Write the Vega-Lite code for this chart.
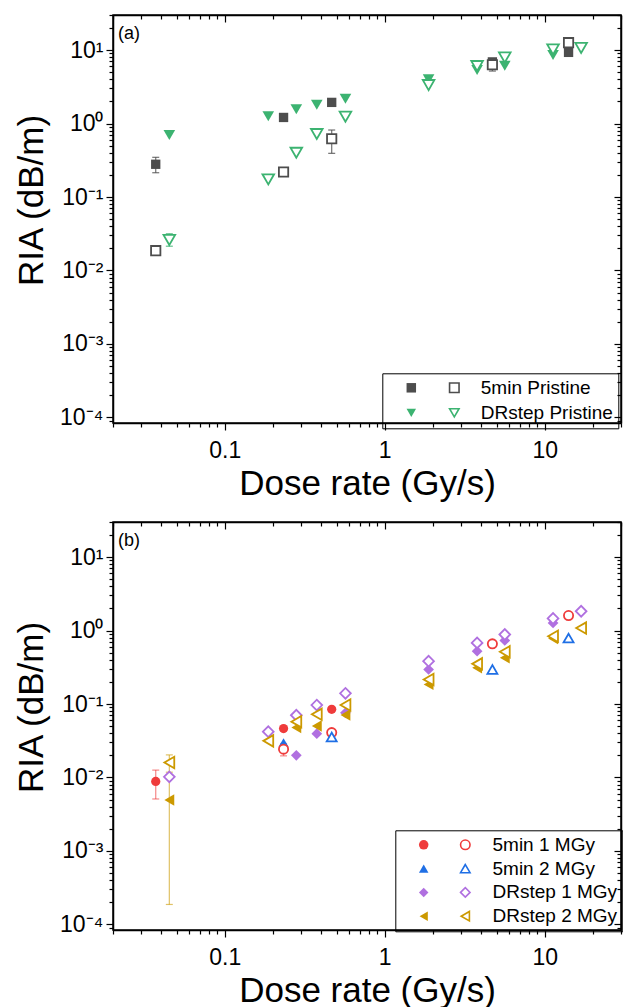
{
  "$schema": "https://vega.github.io/schema/vega-lite/v6.json",
  "background": "white",
  "padding": {"left": 13, "top": 3, "right": 0, "bottom": 0},
  "bounds": "flush",
  "spacing": 99,
  "config": {
    "font": "Liberation Sans",
    "view": {"stroke": "black", "strokeWidth": 1.5},
    "axis": {
      "domainColor": "black", "domainWidth": 1.5, "tickColor": "black", "tickWidth": 1.2,
      "labelFont": "Liberation Sans", "labelFontSize": 23, "labelColor": "black",
      "titleFont": "Liberation Sans", "titleFontSize": 35, "titleFontWeight": "normal", "titleColor": "black",
      "grid": false, "labelOverlap": false, "labelFlush": false, "labelBound": false
    },
    "legend": {"labelFont": "Liberation Sans", "labelColor": "black", "labelFontSize": 19, "symbolOpacity": 1}
  },
  "datasets": {
    "a": [
      {"rate": 0.037, "ria": 0.279, "series": "5min Pristine", "variant": "A", "lo": 0.214, "hi": 0.347},
      {"rate": 0.233, "ria": 1.21, "series": "5min Pristine", "variant": "A"},
      {"rate": 0.466, "ria": 1.94, "series": "5min Pristine", "variant": "A"},
      {"rate": 4.71, "ria": 6.9, "series": "5min Pristine", "variant": "A"},
      {"rate": 14.1, "ria": 9.3, "series": "5min Pristine", "variant": "A"},
      {"rate": 0.037, "ria": 0.0186, "series": "5min Pristine", "variant": "B"},
      {"rate": 0.233, "ria": 0.219, "series": "5min Pristine", "variant": "B"},
      {"rate": 0.466, "ria": 0.62, "series": "5min Pristine", "variant": "B", "lo": 0.393, "hi": 0.816},
      {"rate": 4.71, "ria": 6.3, "series": "5min Pristine", "variant": "B", "lo": 5.18, "hi": 7.3},
      {"rate": 14.1, "ria": 12.6, "series": "5min Pristine", "variant": "B"},
      {"rate": 0.045, "ria": 0.698, "series": "DRstep Pristine", "variant": "A"},
      {"rate": 0.187, "ria": 1.26, "series": "DRstep Pristine", "variant": "A"},
      {"rate": 0.28, "ria": 1.56, "series": "DRstep Pristine", "variant": "A"},
      {"rate": 0.376, "ria": 1.8, "series": "DRstep Pristine", "variant": "A"},
      {"rate": 0.568, "ria": 2.17, "series": "DRstep Pristine", "variant": "A"},
      {"rate": 1.88, "ria": 3.99, "series": "DRstep Pristine", "variant": "A"},
      {"rate": 3.78, "ria": 5.34, "series": "DRstep Pristine", "variant": "A"},
      {"rate": 5.63, "ria": 6.11, "series": "DRstep Pristine", "variant": "A"},
      {"rate": 11.28, "ria": 8.55, "series": "DRstep Pristine", "variant": "A"},
      {"rate": 16.9, "ria": 10.9, "series": "DRstep Pristine", "variant": "A"},
      {"rate": 0.045, "ria": 0.026, "series": "DRstep Pristine", "variant": "B", "lo": 0.0214, "hi": 0.0316},
      {"rate": 0.187, "ria": 0.174, "series": "DRstep Pristine", "variant": "B"},
      {"rate": 0.28, "ria": 0.4, "series": "DRstep Pristine", "variant": "B"},
      {"rate": 0.376, "ria": 0.72, "series": "DRstep Pristine", "variant": "B"},
      {"rate": 0.568, "ria": 1.24, "series": "DRstep Pristine", "variant": "B"},
      {"rate": 1.88, "ria": 3.34, "series": "DRstep Pristine", "variant": "B"},
      {"rate": 3.78, "ria": 6.06, "series": "DRstep Pristine", "variant": "B"},
      {"rate": 5.63, "ria": 7.94, "series": "DRstep Pristine", "variant": "B"},
      {"rate": 11.28, "ria": 10.2, "series": "DRstep Pristine", "variant": "B"},
      {"rate": 16.9, "ria": 10.7, "series": "DRstep Pristine", "variant": "B"}
    ],
    "b": [
      {"rate": 0.037, "ria": 0.00883, "series": "5min 1 MGy", "variant": "A", "lo": 0.0051, "hi": 0.0126},
      {"rate": 0.233, "ria": 0.0463, "series": "5min 1 MGy", "variant": "A"},
      {"rate": 0.466, "ria": 0.0848, "series": "5min 1 MGy", "variant": "A"},
      {"rate": 0.233, "ria": 0.0243, "series": "5min 1 MGy", "variant": "B", "lo": 0.0197, "hi": 0.029},
      {"rate": 0.466, "ria": 0.0408, "series": "5min 1 MGy", "variant": "B"},
      {"rate": 4.71, "ria": 0.659, "series": "5min 1 MGy", "variant": "B"},
      {"rate": 14.1, "ria": 1.6, "series": "5min 1 MGy", "variant": "B"},
      {"rate": 0.233, "ria": 0.0299, "series": "5min 2 MGy", "variant": "A"},
      {"rate": 0.466, "ria": 0.0356, "series": "5min 2 MGy", "variant": "B"},
      {"rate": 4.71, "ria": 0.295, "series": "5min 2 MGy", "variant": "B"},
      {"rate": 14.1, "ria": 0.79, "series": "5min 2 MGy", "variant": "B"},
      {"rate": 0.28, "ria": 0.02, "series": "DRstep 1 MGy", "variant": "A"},
      {"rate": 0.376, "ria": 0.0395, "series": "DRstep 1 MGy", "variant": "A"},
      {"rate": 0.568, "ria": 0.076, "series": "DRstep 1 MGy", "variant": "A"},
      {"rate": 1.88, "ria": 0.295, "series": "DRstep 1 MGy", "variant": "A"},
      {"rate": 3.78, "ria": 0.524, "series": "DRstep 1 MGy", "variant": "A"},
      {"rate": 5.63, "ria": 0.732, "series": "DRstep 1 MGy", "variant": "A"},
      {"rate": 11.28, "ria": 1.27, "series": "DRstep 1 MGy", "variant": "A"},
      {"rate": 0.045, "ria": 0.0102, "series": "DRstep 1 MGy", "variant": "B"},
      {"rate": 0.187, "ria": 0.042, "series": "DRstep 1 MGy", "variant": "B"},
      {"rate": 0.28, "ria": 0.0703, "series": "DRstep 1 MGy", "variant": "B"},
      {"rate": 0.376, "ria": 0.0969, "series": "DRstep 1 MGy", "variant": "B"},
      {"rate": 0.568, "ria": 0.14, "series": "DRstep 1 MGy", "variant": "B"},
      {"rate": 1.88, "ria": 0.383, "series": "DRstep 1 MGy", "variant": "B"},
      {"rate": 3.78, "ria": 0.679, "series": "DRstep 1 MGy", "variant": "B"},
      {"rate": 5.63, "ria": 0.883, "series": "DRstep 1 MGy", "variant": "B"},
      {"rate": 11.28, "ria": 1.46, "series": "DRstep 1 MGy", "variant": "B"},
      {"rate": 16.9, "ria": 1.83, "series": "DRstep 1 MGy", "variant": "B"},
      {"rate": 0.045, "ria": 0.00493, "series": "DRstep 2 MGy", "variant": "A", "lo": 0.000187, "hi": 0.0097},
      {"rate": 0.28, "ria": 0.048, "series": "DRstep 2 MGy", "variant": "A"},
      {"rate": 0.376, "ria": 0.0503, "series": "DRstep 2 MGy", "variant": "A"},
      {"rate": 0.568, "ria": 0.071, "series": "DRstep 2 MGy", "variant": "A"},
      {"rate": 1.88, "ria": 0.185, "series": "DRstep 2 MGy", "variant": "A"},
      {"rate": 3.78, "ria": 0.311, "series": "DRstep 2 MGy", "variant": "A"},
      {"rate": 5.63, "ria": 0.425, "series": "DRstep 2 MGy", "variant": "A"},
      {"rate": 11.28, "ria": 0.778, "series": "DRstep 2 MGy", "variant": "A"},
      {"rate": 0.045, "ria": 0.016, "series": "DRstep 2 MGy", "variant": "B", "lo": 0.0118, "hi": 0.0203},
      {"rate": 0.187, "ria": 0.0315, "series": "DRstep 2 MGy", "variant": "B"},
      {"rate": 0.28, "ria": 0.0575, "series": "DRstep 2 MGy", "variant": "B"},
      {"rate": 0.376, "ria": 0.0724, "series": "DRstep 2 MGy", "variant": "B"},
      {"rate": 0.568, "ria": 0.097, "series": "DRstep 2 MGy", "variant": "B"},
      {"rate": 1.88, "ria": 0.216, "series": "DRstep 2 MGy", "variant": "B"},
      {"rate": 3.78, "ria": 0.352, "series": "DRstep 2 MGy", "variant": "B"},
      {"rate": 5.63, "ria": 0.513, "series": "DRstep 2 MGy", "variant": "B"},
      {"rate": 11.28, "ria": 0.837, "series": "DRstep 2 MGy", "variant": "B"},
      {"rate": 16.9, "ria": 1.08, "series": "DRstep 2 MGy", "variant": "B"}
    ]
  },
  "resolve": {"scale": {"color": "independent", "shape": "independent", "size": "independent"}},
  "vconcat": [
    {
      "width": 508, "height": 408,
      "data": {"name": "a"},
      "resolve": {"axis": {"x": "independent", "y": "independent"}, "legend": {"color": "independent", "shape": "independent"}},
      "layer": [
        {
          "transform": [{"filter": "isValid(datum.lo)"}],
          "mark": {"type": "errorbar", "ticks": {"size": 7}, "thickness": 1.2, "opacity": 0.8},
          "encoding": {
            "x": {"field": "rate", "type": "quantitative", "scale": {"type": "log", "domain": [0.02, 30], "nice": false}, "axis": null},
            "y": {"field": "lo", "type": "quantitative", "scale": {"type": "log", "domain": [0.000084, 30], "nice": false}, "axis": null},
            "y2": {"field": "hi"},
            "color": {"field": "series", "type": "nominal", "scale": {"domain": ["5min Pristine", "DRstep Pristine"], "range": ["#4D4D4D", "#3CB371"]}, "legend": null}
          }
        },
        {
          "transform": [{"filter": "datum.variant == 'A'"}],
          "mark": {"type": "point", "filled": true, "opacity": 1, "strokeWidth": 0},
          "encoding": {
            "x": {"field": "rate", "type": "quantitative", "scale": {"type": "log", "domain": [0.02, 30], "nice": false},
              "axis": {"orient": "bottom", "title": "Dose rate (Gy/s)", "titlePadding": 4, "labelPadding": 9,
                "values": [0.02, 0.03, 0.04, 0.05, 0.06, 0.07, 0.08, 0.09, 0.1, 0.2, 0.3, 0.4, 0.5, 0.6, 0.7, 0.8, 0.9, 1, 2, 3, 4, 5, 6, 7, 8, 9, 10, 20, 30],
                "labelExpr": "abs(log(datum.value)/LN10 - round(log(datum.value)/LN10)) < 0.001 ? (datum.value < 0.5 ? '0.1' : datum.value < 5 ? '1' : '10') : ''",
                "tickSize": {"condition": {"test": "abs(log(datum.value)/LN10 - round(log(datum.value)/LN10)) >= 0.001", "value": 4}, "value": 7}}},
            "y": {"field": "ria", "type": "quantitative", "scale": {"type": "log", "domain": [0.000084, 30], "nice": false},
              "axis": {"orient": "left", "title": "RIA (dB/m)", "titlePadding": 10, "labelPadding": 3, "titleY": 185,
                "values": [0.00009, 0.0001, 0.0002, 0.0003, 0.0004, 0.0005, 0.0006, 0.0007, 0.0008, 0.0009, 0.001, 0.002, 0.003, 0.004, 0.005, 0.006, 0.007, 0.008, 0.009, 0.01, 0.02, 0.03, 0.04, 0.05, 0.06, 0.07, 0.08, 0.09, 0.1, 0.2, 0.3, 0.4, 0.5, 0.6, 0.7, 0.8, 0.9, 1, 2, 3, 4, 5, 6, 7, 8, 9, 10, 20, 30],
                "labelExpr": "abs(log(datum.value)/LN10 - round(log(datum.value)/LN10)) < 0.001 ? ['10⁻⁴','10⁻³','10⁻²','10⁻¹','10⁰','10¹'][round(log(datum.value)/LN10)+4] : ''",
                "tickSize": {"condition": {"test": "abs(log(datum.value)/LN10 - round(log(datum.value)/LN10)) >= 0.001", "value": 4}, "value": 7}}},
            "color": {"field": "series", "type": "nominal", "scale": {"domain": ["5min Pristine", "DRstep Pristine"], "range": ["#4D4D4D", "#3CB371"]},
              "legend": {"orient": "none", "legendX": 283.8, "legendY": 358.3, "title": null, "padding": 5, "symbolOffset": 0, "labelOffset": 17, "labelExpr": "''", "symbolSize": 90, "symbolStrokeWidth": 0, "rowPadding": 5}},
            "shape": {"field": "series", "type": "nominal", "scale": {"domain": ["5min Pristine", "DRstep Pristine"], "range": ["square", "triangle-down"]},
              "legend": {"orient": "none", "legendX": 283.8, "legendY": 358.3, "title": null, "padding": 5, "symbolOffset": 0, "labelOffset": 17, "labelExpr": "''", "symbolSize": 90, "symbolStrokeWidth": 0, "rowPadding": 5}},
            "size": {"field": "series", "type": "ordinal", "scale": {"domain": ["5min Pristine", "DRstep Pristine"], "range": [87, 135]}, "legend": null}
          }
        },
        {
          "transform": [{"filter": "datum.variant == 'B'"}],
          "mark": {"type": "point", "filled": false, "fill": "white", "fillOpacity": 1, "opacity": 1, "strokeWidth": 1.8},
          "encoding": {
            "x": {"field": "rate", "type": "quantitative", "scale": {"type": "log", "domain": [0.02, 30], "nice": false},
              "axis": {"orient": "top", "title": null, "labels": false,
                "values": [0.02, 0.03, 0.04, 0.05, 0.06, 0.07, 0.08, 0.09, 0.1, 0.2, 0.3, 0.4, 0.5, 0.6, 0.7, 0.8, 0.9, 1, 2, 3, 4, 5, 6, 7, 8, 9, 10, 20, 30],
                "tickSize": {"condition": {"test": "abs(log(datum.value)/LN10 - round(log(datum.value)/LN10)) >= 0.001", "value": -4}, "value": -7}}},
            "y": {"field": "ria", "type": "quantitative", "scale": {"type": "log", "domain": [0.000084, 30], "nice": false},
              "axis": {"orient": "right", "title": null, "labels": false,
                "values": [0.00009, 0.0001, 0.0002, 0.0003, 0.0004, 0.0005, 0.0006, 0.0007, 0.0008, 0.0009, 0.001, 0.002, 0.003, 0.004, 0.005, 0.006, 0.007, 0.008, 0.009, 0.01, 0.02, 0.03, 0.04, 0.05, 0.06, 0.07, 0.08, 0.09, 0.1, 0.2, 0.3, 0.4, 0.5, 0.6, 0.7, 0.8, 0.9, 1, 2, 3, 4, 5, 6, 7, 8, 9, 10, 20, 30],
                "tickSize": {"condition": {"test": "abs(log(datum.value)/LN10 - round(log(datum.value)/LN10)) >= 0.001", "value": -4}, "value": -7}}},
            "color": {"field": "series", "type": "nominal", "scale": {"domain": ["5min Pristine", "DRstep Pristine"], "range": ["#4D4D4D", "#3CB371"]},
              "legend": {"orient": "none", "legendX": 269.3, "legendY": 358.3, "title": null, "padding": 5, "symbolOffset": 57.5, "labelOffset": 17, "symbolSize": 90, "symbolStrokeWidth": 1.6, "symbolFillColor": "white", "strokeColor": "black", "rowPadding": 5}},
            "shape": {"field": "series", "type": "nominal", "scale": {"domain": ["5min Pristine", "DRstep Pristine"], "range": ["square", "triangle-down"]},
              "legend": {"orient": "none", "legendX": 269.3, "legendY": 358.3, "title": null, "padding": 5, "symbolOffset": 57.5, "labelOffset": 17, "symbolSize": 90, "symbolStrokeWidth": 1.6, "symbolFillColor": "white", "strokeColor": "black", "rowPadding": 5}},
            "size": {"field": "series", "type": "ordinal", "scale": {"domain": ["5min Pristine", "DRstep Pristine"], "range": [70, 110]}, "legend": null}
          }
        },
        {
          "data": {"values": [{"panel": "(a)"}]},
          "mark": {"type": "text", "align": "left", "baseline": "middle", "fontSize": 18, "font": "Liberation Sans", "color": "black"},
          "encoding": {
            "x": {"datum": 0.0215, "type": "quantitative", "scale": {"type": "log", "domain": [0.02, 30], "nice": false}, "axis": null},
            "y": {"datum": 16.8, "type": "quantitative", "scale": {"type": "log", "domain": [0.000084, 30], "nice": false}, "axis": null},
            "text": {"field": "panel"}
          }
        }
      ]
    },
    {
      "width": 508, "height": 408,
      "data": {"name": "b"},
      "resolve": {"axis": {"x": "independent", "y": "independent"}, "legend": {"color": "independent", "shape": "independent"}},
      "layer": [
        {
          "transform": [{"filter": "isValid(datum.lo)"}],
          "mark": {"type": "errorbar", "ticks": {"size": 7}, "thickness": 1.2, "opacity": 0.6},
          "encoding": {
            "x": {"field": "rate", "type": "quantitative", "scale": {"type": "log", "domain": [0.02, 30], "nice": false}, "axis": null},
            "y": {"field": "lo", "type": "quantitative", "scale": {"type": "log", "domain": [0.000084, 30], "nice": false}, "axis": null},
            "y2": {"field": "hi"},
            "color": {"field": "series", "type": "nominal", "scale": {"domain": ["5min 1 MGy", "5min 2 MGy", "DRstep 1 MGy", "DRstep 2 MGy"], "range": ["#EF3B3B", "#1F6FE5", "#B070E0", "#CC9900"]}, "legend": null}
          }
        },
        {
          "transform": [{"filter": "datum.variant == 'A'"}],
          "mark": {"type": "point", "filled": true, "opacity": 1, "strokeWidth": 0},
          "encoding": {
            "x": {"field": "rate", "type": "quantitative", "scale": {"type": "log", "domain": [0.02, 30], "nice": false},
              "axis": {"orient": "bottom", "title": "Dose rate (Gy/s)", "titlePadding": 4, "labelPadding": 9,
                "values": [0.02, 0.03, 0.04, 0.05, 0.06, 0.07, 0.08, 0.09, 0.1, 0.2, 0.3, 0.4, 0.5, 0.6, 0.7, 0.8, 0.9, 1, 2, 3, 4, 5, 6, 7, 8, 9, 10, 20, 30],
                "labelExpr": "abs(log(datum.value)/LN10 - round(log(datum.value)/LN10)) < 0.001 ? (datum.value < 0.5 ? '0.1' : datum.value < 5 ? '1' : '10') : ''",
                "tickSize": {"condition": {"test": "abs(log(datum.value)/LN10 - round(log(datum.value)/LN10)) >= 0.001", "value": 4}, "value": 7}}},
            "y": {"field": "ria", "type": "quantitative", "scale": {"type": "log", "domain": [0.000084, 30], "nice": false},
              "axis": {"orient": "left", "title": "RIA (dB/m)", "titlePadding": 10, "labelPadding": 3, "titleY": 185,
                "values": [0.00009, 0.0001, 0.0002, 0.0003, 0.0004, 0.0005, 0.0006, 0.0007, 0.0008, 0.0009, 0.001, 0.002, 0.003, 0.004, 0.005, 0.006, 0.007, 0.008, 0.009, 0.01, 0.02, 0.03, 0.04, 0.05, 0.06, 0.07, 0.08, 0.09, 0.1, 0.2, 0.3, 0.4, 0.5, 0.6, 0.7, 0.8, 0.9, 1, 2, 3, 4, 5, 6, 7, 8, 9, 10, 20, 30],
                "labelExpr": "abs(log(datum.value)/LN10 - round(log(datum.value)/LN10)) < 0.001 ? ['10⁻⁴','10⁻³','10⁻²','10⁻¹','10⁰','10¹'][round(log(datum.value)/LN10)+4] : ''",
                "tickSize": {"condition": {"test": "abs(log(datum.value)/LN10 - round(log(datum.value)/LN10)) >= 0.001", "value": 4}, "value": 7}}},
            "color": {"field": "series", "type": "nominal", "scale": {"domain": ["5min 1 MGy", "5min 2 MGy", "DRstep 1 MGy", "DRstep 2 MGy"], "range": ["#EF3B3B", "#1F6FE5", "#B070E0", "#CC9900"]},
              "legend": {"orient": "none", "legendX": 296.2, "legendY": 308.3, "title": null, "padding": 5, "symbolOffset": 0, "labelOffset": 17.7, "labelExpr": "''", "symbolSize": 90, "symbolStrokeWidth": 0, "rowPadding": 3.8}},
            "shape": {"field": "series", "type": "nominal", "scale": {"domain": ["5min 1 MGy", "5min 2 MGy", "DRstep 1 MGy", "DRstep 2 MGy"], "range": ["circle", "triangle-up", "diamond", "triangle-left"]},
              "legend": {"orient": "none", "legendX": 296.2, "legendY": 308.3, "title": null, "padding": 5, "symbolOffset": 0, "labelOffset": 17.7, "labelExpr": "''", "symbolSize": 90, "symbolStrokeWidth": 0, "rowPadding": 3.8}},
            "size": {"field": "series", "type": "ordinal", "scale": {"domain": ["5min 1 MGy", "5min 2 MGy", "DRstep 1 MGy", "DRstep 2 MGy"], "range": [85, 130, 110, 130]}, "legend": null}
          }
        },
        {
          "transform": [{"filter": "datum.variant == 'B'"}],
          "mark": {"type": "point", "filled": false, "fill": "white", "fillOpacity": 1, "opacity": 1, "strokeWidth": 1.8},
          "encoding": {
            "x": {"field": "rate", "type": "quantitative", "scale": {"type": "log", "domain": [0.02, 30], "nice": false},
              "axis": {"orient": "top", "title": null, "labels": false,
                "values": [0.02, 0.03, 0.04, 0.05, 0.06, 0.07, 0.08, 0.09, 0.1, 0.2, 0.3, 0.4, 0.5, 0.6, 0.7, 0.8, 0.9, 1, 2, 3, 4, 5, 6, 7, 8, 9, 10, 20, 30],
                "tickSize": {"condition": {"test": "abs(log(datum.value)/LN10 - round(log(datum.value)/LN10)) >= 0.001", "value": -4}, "value": -7}}},
            "y": {"field": "ria", "type": "quantitative", "scale": {"type": "log", "domain": [0.000084, 30], "nice": false},
              "axis": {"orient": "right", "title": null, "labels": false,
                "values": [0.00009, 0.0001, 0.0002, 0.0003, 0.0004, 0.0005, 0.0006, 0.0007, 0.0008, 0.0009, 0.001, 0.002, 0.003, 0.004, 0.005, 0.006, 0.007, 0.008, 0.009, 0.01, 0.02, 0.03, 0.04, 0.05, 0.06, 0.07, 0.08, 0.09, 0.1, 0.2, 0.3, 0.4, 0.5, 0.6, 0.7, 0.8, 0.9, 1, 2, 3, 4, 5, 6, 7, 8, 9, 10, 20, 30],
                "tickSize": {"condition": {"test": "abs(log(datum.value)/LN10 - round(log(datum.value)/LN10)) >= 0.001", "value": -4}, "value": -7}}},
            "color": {"field": "series", "type": "nominal", "scale": {"domain": ["5min 1 MGy", "5min 2 MGy", "DRstep 1 MGy", "DRstep 2 MGy"], "range": ["#EF3B3B", "#1F6FE5", "#B070E0", "#CC9900"]},
              "legend": {"orient": "none", "legendX": 282.3, "legendY": 308.3, "title": null, "padding": 5, "symbolOffset": 55.5, "labelOffset": 17.7, "symbolSize": 90, "symbolStrokeWidth": 1.6, "symbolFillColor": "white", "strokeColor": "black", "rowPadding": 3.8}},
            "shape": {"field": "series", "type": "nominal", "scale": {"domain": ["5min 1 MGy", "5min 2 MGy", "DRstep 1 MGy", "DRstep 2 MGy"], "range": ["circle", "triangle-up", "diamond", "triangle-left"]},
              "legend": {"orient": "none", "legendX": 282.3, "legendY": 308.3, "title": null, "padding": 5, "symbolOffset": 55.5, "labelOffset": 17.7, "symbolSize": 90, "symbolStrokeWidth": 1.6, "symbolFillColor": "white", "strokeColor": "black", "rowPadding": 3.8}},
            "size": {"field": "series", "type": "ordinal", "scale": {"domain": ["5min 1 MGy", "5min 2 MGy", "DRstep 1 MGy", "DRstep 2 MGy"], "range": [65, 100, 95, 110]}, "legend": null}
          }
        },
        {
          "data": {"values": [{"panel": "(b)"}]},
          "mark": {"type": "text", "align": "left", "baseline": "middle", "fontSize": 18, "font": "Liberation Sans", "color": "black"},
          "encoding": {
            "x": {"datum": 0.0215, "type": "quantitative", "scale": {"type": "log", "domain": [0.02, 30], "nice": false}, "axis": null},
            "y": {"datum": 16.8, "type": "quantitative", "scale": {"type": "log", "domain": [0.000084, 30], "nice": false}, "axis": null},
            "text": {"field": "panel"}
          }
        }
      ]
    }
  ]
}
